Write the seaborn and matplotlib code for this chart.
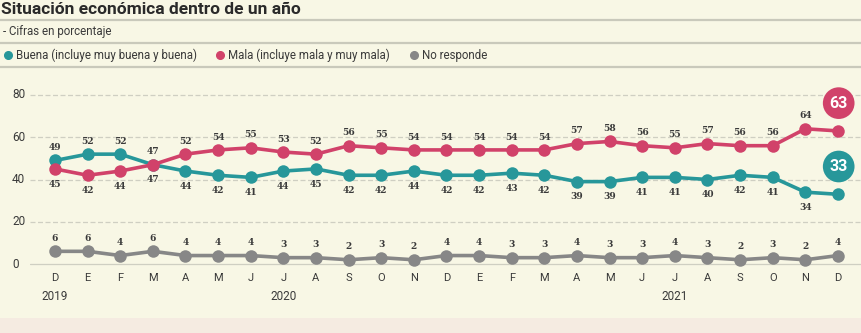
import matplotlib
matplotlib.use("Agg")
import matplotlib.pyplot as plt
import matplotlib.transforms as mtransforms
from matplotlib.patches import Rectangle
import seaborn as sns
import pandas as pd

months = ["D", "E", "F", "M", "A", "M", "J", "J", "A", "S", "O", "N",
          "D", "E", "F", "M", "A", "M", "J", "J", "A", "S", "O", "N", "D"]
years = {0: "2019", 7: "2020", 19: "2021"}
buena = [49, 52, 52, 47, 44, 42, 41, 44, 45, 42, 42, 44, 42, 42, 43, 42, 39, 39, 41, 41, 40, 42, 41, 34, 33]
mala = [45, 42, 44, 47, 52, 54, 55, 53, 52, 56, 55, 54, 54, 54, 54, 54, 57, 58, 56, 55, 57, 56, 56, 64, 63]
nr = [6, 6, 4, 6, 4, 4, 4, 3, 3, 2, 3, 2, 4, 4, 3, 3, 4, 3, 3, 4, 3, 2, 3, 2, 4]
labels = ["Buena (incluye muy buena y buena)", "Mala (incluye mala y muy mala)", "No responde"]
yticks = [0, 20, 40, 60, 80]

BG = "#f8f7e5"
TEAL = "#27979a"
PINK = "#d1426a"
GRAY = "#878787"
TXT = "#3a3a3a"

sns.set_theme(style="white")
plt.rcParams["font.family"] = ["Roboto", "DejaVu Sans"]

W, H = 862, 333
fig = plt.figure(figsize=(W / 100, H / 100), dpi=100, facecolor=BG)

def fx(px):
    return px / W

def fy(py):
    return 1 - py / H

# axes: x pixel 30..862, y pixel 80..270
ax = fig.add_axes([fx(30), fy(270), fx(862 - 30), (270 - 80) / H])
ax.set_facecolor(BG)
step = (838 - 55) / 24
ax.set_xlim(-25 / step, 24 + 24 / step)
unit = (264 - 95) / 80
ax.set_ylim(-(270 - 264) / unit, 80 + (95 - 80) / unit)

n = len(months)
idx = list(range(n))
df = pd.DataFrame({"x": idx * 3,
                   "v": buena + mala + nr,
                   "s": [labels[0]] * n + [labels[1]] * n + [labels[2]] * n})

for y in yticks:
    ax.axhline(y, color="#cfcfc2", lw=0.9, ls=(0, (4, 2)) if y else "-", zorder=0)

sns.lineplot(data=df, x="x", y="v", hue="s", palette=[TEAL, PINK, GRAY],
             marker="o", markersize=9, markeredgewidth=0, lw=2.6,
             legend=False, ax=ax, zorder=3)

for s in ax.spines.values():
    s.set_visible(False)
ax.set_xticks([])
ax.set_yticks([])
ax.set_xlabel("")
ax.set_ylabel("")

lab_kw = dict(fontsize=6.6, color=TXT, ha="center", fontweight="bold",
              family=["DejaVu Serif"], textcoords="offset points")
for i in range(n):
    if i < n - 1:
        b, m = buena[i], mala[i]
        b_up = b > m or (b == m)
        m_up = m > b
        ax.annotate(str(b), (i, b), xytext=(0, 6 if b_up else -11), va="bottom" if b_up else "center", **lab_kw)
        ax.annotate(str(m), (i, m), xytext=(0, 6 if m_up else -11), va="bottom" if m_up else "center", **lab_kw)
    ax.annotate(str(nr[i]), (i, nr[i]), xytext=(0, 6), va="bottom", **lab_kw)

# badges
for val, col in [(mala[-1], PINK), (buena[-1], TEAL)]:
    ax.annotate(str(val), (n - 1, val), xytext=(0.5, 20), textcoords="offset points",
                ha="center", va="center", fontsize=11.5, color="white", fontweight="bold",
                bbox=dict(boxstyle="circle,pad=0.42", fc=col, ec="none"), zorder=5)

# y tick labels
for y in yticks:
    fig.text(fx(12), fy(264 - y * unit), str(y), fontsize=8.5, color=TXT,
             ha="left", va="center")

# month and year labels
trans = mtransforms.blended_transform_factory(ax.transData, fig.transFigure)
for i, m in enumerate(months):
    ax.text(i, fy(278), m, transform=trans, ha="center", va="center", fontsize=8, color=TXT)
for i, yv in years.items():
    ax.text(i, fy(297), yv, transform=trans, ha="center", va="center", fontsize=8.5, color=TXT)

# header
fig.text(fx(1), fy(9), "Situación económica dentro de un año", fontsize=12.5, fontweight="bold",
         color="#2a2a2a", ha="left", va="center")
fig.text(fx(3), fy(31), "- Cifras en porcentaje", fontsize=8.3, color=TXT, ha="left", va="center")
for py in [20, 43, 67]:
    fig.add_artist(plt.Line2D([0, 1], [fy(py), fy(py)], transform=fig.transFigure,
                              color="#c9c9bb", lw=1.6))

leg_items = [(8, labels[0], TEAL), (220, labels[1], PINK), (414, labels[2], GRAY)]
for px, t, c in leg_items:
    fig.add_artist(plt.Line2D([fx(px)], [fy(55)], transform=fig.transFigure, marker="o",
                              markersize=5.5, color=c, lw=0))
    fig.text(fx(px + 8), fy(55), t, fontsize=8.3, color=TXT, ha="left", va="center")

# bottom band
fig.add_artist(Rectangle((0, 0), 1, 15 / H, transform=fig.transFigure,
                         facecolor="#f5ebe1", edgecolor="none"))

fig.savefig("out.png", dpi=100, facecolor=BG)
